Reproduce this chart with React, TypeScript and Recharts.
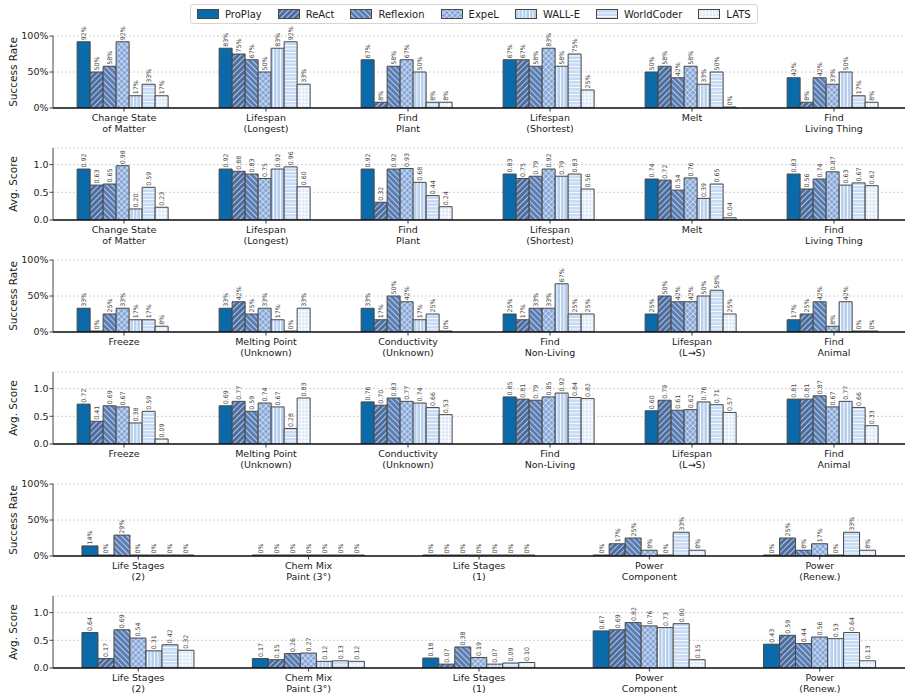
import { BarChart, Bar, XAxis, YAxis, CartesianGrid, LabelList } from "recharts";

const methods = ["ProPlay", "ReAct", "Reflexion", "ExpeL", "WALL-E", "WorldCoder", "LATS"];

// top block of tasks (rows 1-4)
const catsA = ["Change State\nof Matter", "Lifespan\n(Longest)", "Find\nPlant", "Lifespan\n(Shortest)", "Melt", "Find\nLiving Thing"];
const successA = [
  [92, 50, 58, 92, 17, 33, 17],
  [83, 75, 67, 50, 83, 92, 33],
  [67, 8, 58, 67, 50, 8, 8],
  [67, 67, 58, 83, 58, 75, 25],
  [50, 58, 42, 58, 33, 50, 0],
  [42, 8, 42, 33, 50, 17, 8],
];
const scoreA = [
  [0.92, 0.63, 0.65, 0.98, 0.2, 0.59, 0.23],
  [0.92, 0.88, 0.83, 0.75, 0.92, 0.96, 0.6],
  [0.92, 0.32, 0.92, 0.93, 0.68, 0.44, 0.24],
  [0.83, 0.75, 0.79, 0.92, 0.79, 0.83, 0.56],
  [0.74, 0.72, 0.54, 0.76, 0.39, 0.65, 0.04],
  [0.83, 0.56, 0.74, 0.87, 0.63, 0.67, 0.62],
];

const catsB = ["Freeze", "Melting Point\n(Unknown)", "Conductivity\n(Unknown)", "Find\nNon-Living", "Lifespan\n(L→S)", "Find\nAnimal"];
const successB = [
  [33, 0, 25, 33, 17, 17, 8],
  [33, 42, 25, 33, 17, 0, 33],
  [33, 17, 50, 42, 17, 25, 0],
  [25, 17, 33, 33, 67, 25, 25],
  [25, 50, 42, 42, 50, 58, 25],
  [17, 25, 42, 8, 42, 0, 0],
];
const scoreB = [
  [0.72, 0.41, 0.69, 0.67, 0.38, 0.59, 0.09],
  [0.69, 0.77, 0.59, 0.74, 0.67, 0.28, 0.83],
  [0.76, 0.7, 0.83, 0.77, 0.74, 0.66, 0.53],
  [0.85, 0.81, 0.79, 0.85, 0.92, 0.84, 0.82],
  [0.6, 0.79, 0.61, 0.62, 0.76, 0.71, 0.57],
  [0.81, 0.81, 0.87, 0.67, 0.77, 0.66, 0.33],
];

const catsC = ["Life Stages\n(2)", "Chem Mix\nPaint (3°)", "Life Stages\n(1)", "Power\nComponent", "Power\n(Renew.)"];
const successC = [
  [14, 0, 29, 0, 0, 0, 0],
  [0, 0, 0, 0, 0, 0, 0],
  [0, 0, 0, 0, 0, 0, 0],
  [0, 17, 25, 8, 0, 33, 8],
  [0, 25, 8, 17, 0, 33, 8],
];
const scoreC = [
  [0.64, 0.17, 0.69, 0.54, 0.31, 0.42, 0.32],
  [0.17, 0.15, 0.26, 0.27, 0.12, 0.13, 0.12],
  [0.18, 0.07, 0.38, 0.19, 0.07, 0.09, 0.1],
  [0.67, 0.69, 0.82, 0.76, 0.73, 0.8, 0.15],
  [0.43, 0.59, 0.44, 0.56, 0.53, 0.64, 0.13],
];

const fills = ["#0b6aa9", "url(#hReAct)", "url(#hReflexion)", "url(#hExpeL)", "url(#hWallE)", "url(#hWorldCoder)", "url(#hLATS)"];

const rows = [
  { cats: catsA, vals: successA, kind: "sr" },
  { cats: catsA, vals: scoreA, kind: "as" },
  { cats: catsB, vals: successB, kind: "sr" },
  { cats: catsB, vals: scoreB, kind: "as" },
  { cats: catsC, vals: successC, kind: "sr" },
  { cats: catsC, vals: scoreC, kind: "as" },
];

const FONT = "'DejaVu Sans', sans-serif";

function Patterns() {
  return (
    <svg width={0} height={0} style={{ position: "absolute" }}>
      <defs>
        <pattern id="hReAct" width={4} height={4} patternUnits="userSpaceOnUse" patternTransform="rotate(45)">
          <rect width={4} height={4} fill="#4c6d9f" />
          <line x1={0} y1={0} x2={0} y2={4} stroke="#fff" strokeWidth={1.2} />
        </pattern>
        <pattern id="hReflexion" width={4} height={4} patternUnits="userSpaceOnUse" patternTransform="rotate(-45)">
          <rect width={4} height={4} fill="#5a7db3" />
          <line x1={0} y1={0} x2={0} y2={4} stroke="#fff" strokeWidth={1.2} />
        </pattern>
        <pattern id="hExpeL" width={4} height={4} patternUnits="userSpaceOnUse" patternTransform="rotate(45)">
          <rect width={4} height={4} fill="#84a6d8" />
          <line x1={0} y1={0} x2={0} y2={4} stroke="#fff" strokeWidth={1} />
          <line x1={0} y1={0} x2={4} y2={0} stroke="#fff" strokeWidth={1} />
        </pattern>
        <pattern id="hWallE" width={3.5} height={4} patternUnits="userSpaceOnUse">
          <rect width={3.5} height={4} fill="#b6cfef" />
          <line x1={0.5} y1={0} x2={0.5} y2={4} stroke="#fff" strokeWidth={0.9} />
        </pattern>
        <pattern id="hWorldCoder" width={4} height={3.5} patternUnits="userSpaceOnUse">
          <rect width={4} height={3.5} fill="#c4d9f3" />
          <line x1={0} y1={0.5} x2={4} y2={0.5} stroke="#fff" strokeWidth={0.9} />
        </pattern>
        <pattern id="hLATS" width={3.5} height={3.5} patternUnits="userSpaceOnUse">
          <rect width={3.5} height={3.5} fill="#dbe8f8" />
          <line x1={0.5} y1={0} x2={0.5} y2={3.5} stroke="#fff" strokeWidth={0.8} />
          <line x1={0} y1={0.5} x2={3.5} y2={0.5} stroke="#fff" strokeWidth={0.8} />
        </pattern>
      </defs>
    </svg>
  );
}

function CatTick(props: any) {
  const { x, y, payload } = props;
  const lines = String(payload.value).split("\n");
  return (
    <text x={x} y={y} textAnchor="middle" fontSize={9.5} fill="#222" fontFamily={FONT}>
      {lines.map((l, i) => (
        <tspan key={i} x={x} dy={i === 0 ? "0.78em" : "1.16em"}>
          {l}
        </tspan>
      ))}
    </text>
  );
}

const yLabel = (text: string) => (props: any) => {
  const vb = props.viewBox;
  const cy = vb.y + vb.height / 2;
  return (
    <text x={13} y={cy} transform={`rotate(-90, 13, ${cy})`} textAnchor="middle" dominantBaseline="central" fontSize={10.5} fill="#222" fontFamily={FONT}>
      {text}
    </text>
  );
};

const barLabel = (kind: string) => (props: any) => {
  const { x, y, width, value } = props;
  const cx = x + width / 2;
  const ty = y - 1.5;
  const txt = kind === "sr" ? `${value}%` : Number(value).toFixed(2);
  return (
    <text x={cx} y={ty} transform={`rotate(-90, ${cx}, ${ty})`} textAnchor="start" dominantBaseline="central" fontSize={6.3} fill="#444" fontFamily={FONT}>
      {txt}
    </text>
  );
};

function Row({ cats, vals, kind }: { cats: string[]; vals: number[][]; kind: string }) {
  const data = cats.map((name, i) => {
    const r: any = { name };
    vals[i].forEach((v, j) => (r["m" + j] = v));
    return r;
  });
  const sr = kind === "sr";
  return (
    <BarChart width={911} height={112} data={data} margin={{ top: 12, right: 6, bottom: 0, left: 0 }} barCategoryGap="17%" barGap={0} style={{ overflow: "visible" }}>
      <CartesianGrid vertical={false} stroke="#d0d0d0" strokeDasharray="2 2" />
      <XAxis dataKey="name" interval={0} height={28} tick={<CatTick />} tickSize={3.5} tickMargin={2} axisLine={{ stroke: "#111", strokeWidth: 1.3 }} tickLine={{ stroke: "#333" }} />
      <YAxis
        width={53}
        domain={sr ? [0, 100] : [0, 1.3]}
        ticks={sr ? [0, 50, 100] : [0, 0.5, 1]}
        tickFormatter={(v: number) => (sr ? `${v}%` : v.toFixed(1))}
        tick={{ fontSize: 9.5, fill: "#222", fontFamily: FONT }}
        tickSize={3.5}
        tickMargin={1}
        axisLine={{ stroke: "#444" }}
        tickLine={{ stroke: "#444" }}
        allowDataOverflow
        label={yLabel(sr ? "Success Rate" : "Avg. Score")}
      />
      {methods.map((m, j) => (
        <Bar key={m} dataKey={"m" + j} name={m} fill={fills[j]} stroke="#474747" strokeWidth={1} minPointSize={1} isAnimationActive={false}>
          <LabelList dataKey={"m" + j} content={barLabel(kind)} />
        </Bar>
      ))}
    </BarChart>
  );
}

function LegendBox() {
  return (
    <div
      style={{
        position: "absolute",
        left: 190,
        top: 4,
        height: 20,
        display: "flex",
        alignItems: "center",
        gap: 16,
        padding: "0 6px",
        border: "1px solid #d5d5d5",
        borderRadius: 3,
        background: "#fff",
        fontSize: 10,
        color: "#222",
        fontFamily: FONT,
        boxSizing: "border-box",
      }}
    >
      {methods.map((m, j) => (
        <div key={m} style={{ display: "flex", alignItems: "center", gap: 6 }}>
          <svg width={22} height={10}>
            <rect x={0.5} y={0.5} width={21} height={9} fill={fills[j]} stroke="#474747" strokeWidth={1} />
          </svg>
          <span>{m}</span>
        </div>
      ))}
    </div>
  );
}

export default function App() {
  return (
    <div style={{ position: "absolute", left: 0, top: 0, width: 911, height: 700, background: "#fff", fontFamily: FONT }}>
      <Patterns />
      {rows.map((r, i) => (
        <div key={i} style={{ position: "absolute", left: 0, top: 24 + i * 112 }}>
          <Row cats={r.cats} vals={r.vals} kind={r.kind} />
        </div>
      ))}
      <LegendBox />
    </div>
  );
}
